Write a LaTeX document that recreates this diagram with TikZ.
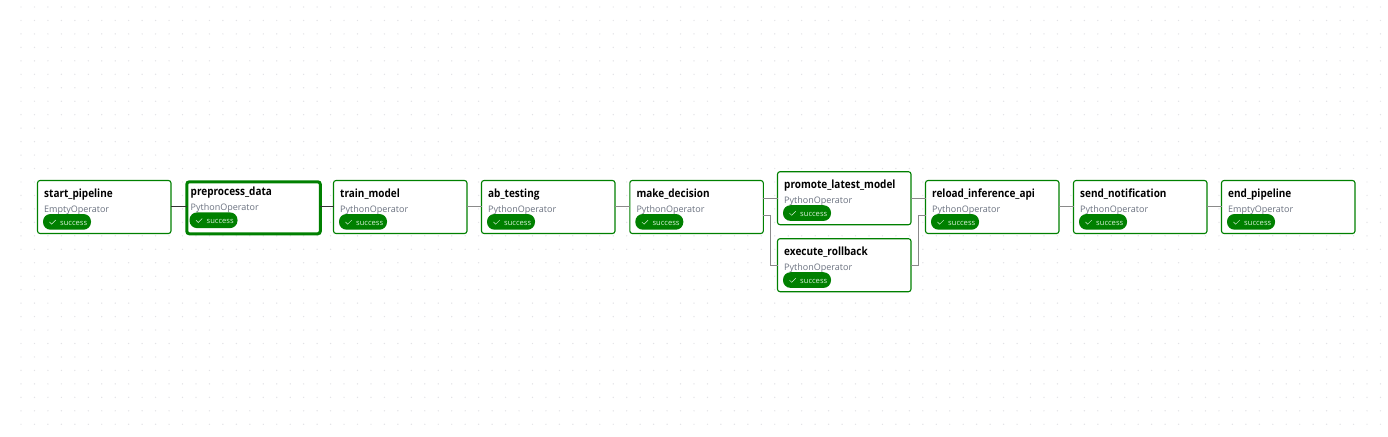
\documentclass[tikz,border=0pt]{standalone}
\usepackage{fontspec}
\setmainfont{Open Sans}
\newfontfamily\labelfont[FakeStretch=0.885]{Open Sans}
\usetikzlibrary{calc}
\definecolor{okgreen}{HTML}{008000}
\definecolor{dotgray}{HTML}{E2E2E6}
\definecolor{opgray}{HTML}{6B7280}
\definecolor{edgegray}{HTML}{8A8A8A}
\definecolor{pilltextc}{HTML}{D8F0D8}
\tikzset{
  x=1pt,y=-1pt,
  taskbox/.style={draw=okgreen,line width=1.1pt,rounded corners=2.5pt,fill=white,anchor=north west,inner sep=0pt,outer sep=0pt,minimum height=53pt,minimum width=133.5pt},
  selbox/.style={taskbox,line width=3pt,minimum height=52pt},
  tasklabel/.style={anchor=base west,inner sep=0pt,font=\labelfont\fontsize{11.3}{13}\selectfont\bfseries,text=black},
  oplabel/.style={anchor=base west,inner sep=0pt,font=\fontsize{9}{11}\selectfont,text=opgray},
  pill/.style={fill=okgreen,rounded corners=7.5pt,anchor=north west,minimum width=48pt,minimum height=15.7pt,inner sep=0pt,outer sep=0pt},
  pilltext/.style={anchor=base west,inner sep=0pt,font=\fontsize{7.6}{9}\selectfont,text=pilltextc},
  edge/.style={draw=edgegray,line width=1pt},
  edgedark/.style={draw=black!80,line width=1.1pt}
}
% [box style]{name}{x}{y}{content dx}{content dy}{label}{operator}
\newcommand{\tasknode}[8][taskbox]{%
  \node[#1] (#2) at (#3,#4) {};
  \coordinate (#2c) at ($(#2.north west)+(#5,#6)$);
  \node[tasklabel] (#2l) at ($(#2c)+(6.5,16.8)$) {#7};
  \node[oplabel] (#2o) at ($(#2c)+(6.5,31.5)$) {#8};
  \node[pill] (#2p) at ($(#2c)+(5.5,33.5)$) {};
  \draw[pilltextc,line width=.5pt] ($(#2p.west)+(6.5,0.1)$) -- ++(2.2,2.2) -- ++(4,-4);
  \node[pilltext] (#2t) at ($(#2p.west)+(17,3.3)$) {success};
}
\begin{document}
\begin{tikzpicture}
\useasboundingbox (0,0) rectangle (1388,436);
\fill[white] (0,0) rectangle (1388,436);
\foreach \i in {0,...,101}{\foreach \j in {0,...,31}{
  \fill[dotgray] ({21+13.46*\i},{7+13.46*\j}) circle (.7);
}}
\tasknode{start}{37.5}{180.5}{0}{0}{start\_pipeline}{EmptyOperator}
\tasknode[selbox]{pre}{186.8}{181.8}{-2.8}{-2.9}{preprocess\_data}{PythonOperator}
\tasknode{train}{333.5}{180.5}{0}{0}{train\_model}{PythonOperator}
\tasknode{ab}{481.5}{180.5}{0}{0}{ab\_testing}{PythonOperator}
\tasknode{make}{629.8}{180.5}{0}{0}{make\_decision}{PythonOperator}
\tasknode{promote}{777.5}{171.7}{0}{0}{promote\_latest\_model}{PythonOperator}
\tasknode{rollback}{777.5}{238.7}{0}{0}{execute\_rollback}{PythonOperator}
\tasknode{reload}{925.5}{180.5}{0}{0}{reload\_inference\_api}{PythonOperator}
\tasknode{send}{1073.5}{180.5}{0}{0}{send\_notification}{PythonOperator}
\tasknode{finish}{1221.5}{180.5}{0}{0}{end\_pipeline}{EmptyOperator}
\draw[edgedark] ($(start.east)+(0,-.5)$) -- ($(start.east -| pre.west)+(0,-.5)$);
\draw[edgedark] ($(train.west -| pre.east)+(0,-.5)$) -- ($(train.west)+(0,-.5)$);
\draw[edge] ($(train.east)+(0,-.5)$) -- ($(ab.west)+(0,-.5)$);
\draw[edge] ($(ab.east)+(0,-.5)$) -- ($(make.west)+(0,-.5)$);
\draw[edge] ($(promote.west -| make.east)$) -- (promote.west);
\draw[edge] ($(make.east)+(0,8)$) -| ($(rollback.west)+(-7,0)$) -- (rollback.west);
\draw[edge] (promote.east) -- (promote.east -| reload.west);
\draw[edge] (rollback.east) -| ($(reload.west)+(-7.5,8.5)$) -- ($(reload.west)+(0,8.5)$);
\draw[edge] ($(reload.east)+(0,-.5)$) -- ($(send.west)+(0,-.5)$);
\draw[edge] ($(send.east)+(0,-.5)$) -- ($(finish.west)+(0,-.5)$);
\end{tikzpicture}
\end{document}
